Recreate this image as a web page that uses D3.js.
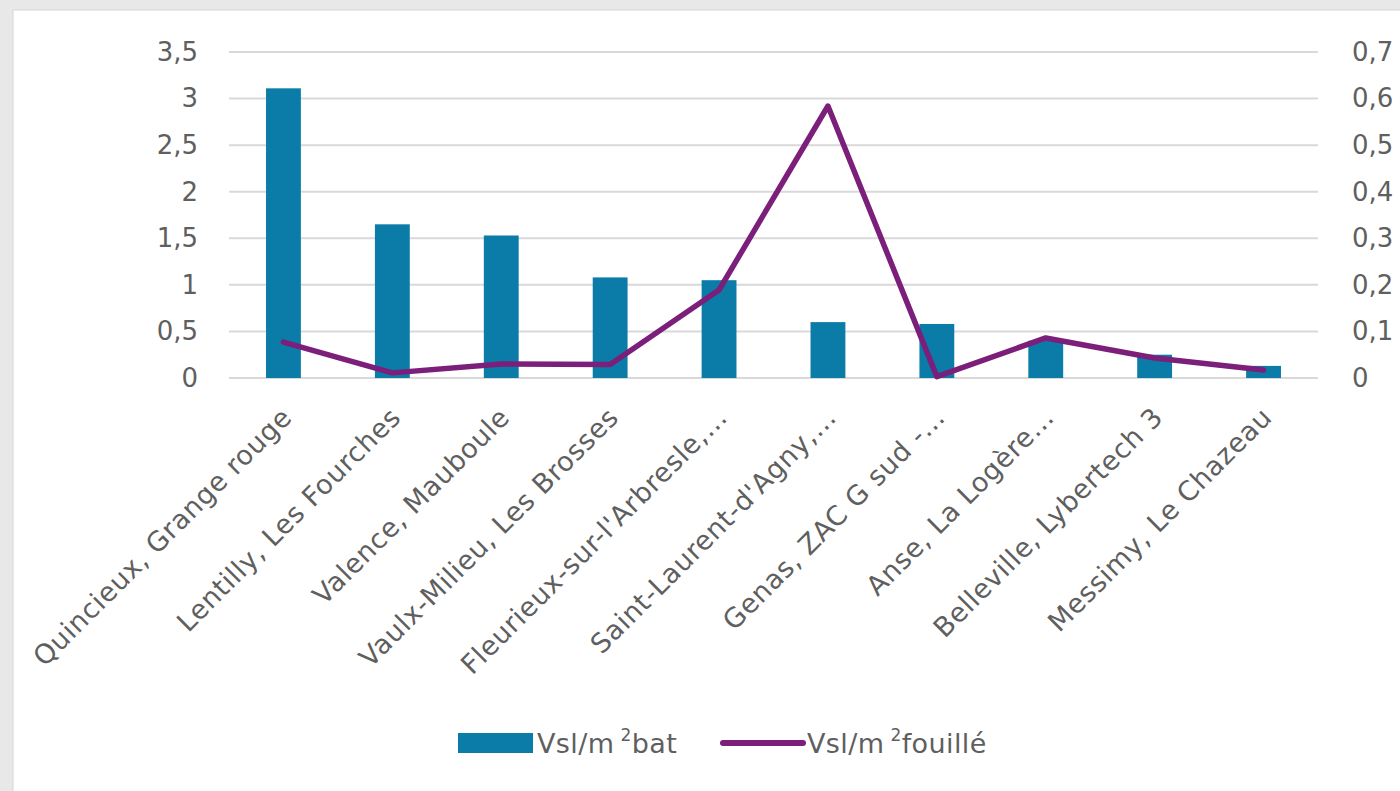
<!DOCTYPE html>
<html>
<head>
<meta charset="utf-8">
<style>
  body { margin: 0; background: #e8e8e8; }
  svg { display: block; }
  text { font-family: "DejaVu Sans", sans-serif; fill: #5f5f5f; }
</style>
</head>
<body>
<div id="chart"></div>
<script src="https://d3js.org/d3.v7.min.js"></script>
<script>
  // categories and the two series
  var sites = ["Quincieux, Grange rouge", "Lentilly, Les Fourches", "Valence, Mauboule",
    "Vaulx-Milieu, Les Brosses", "Fleurieux-sur-l'Arbresle,…", "Saint-Laurent-d'Agny,…",
    "Genas, ZAC G sud -…", "Anse, La Logère…", "Belleville, Lybertech 3", "Messimy, Le Chazeau"];
  var perBat = [3.11, 1.65, 1.53, 1.08, 1.05, 0.60, 0.58, 0.40, 0.25, 0.13];
  var perFouille = [0.077, 0.011, 0.030, 0.029, 0.189, 0.584, 0.003, 0.086, 0.043, 0.017];

  var leftTicks = [0, 0.5, 1, 1.5, 2, 2.5, 3, 3.5];
  var rightTicks = [0, 0.1, 0.2, 0.3, 0.4, 0.5, 0.6, 0.7];

  var W = 1400, H = 791;
  var plot = { left: 229, right: 1318, top: 52, bottom: 378 };

  var comma = function(v) { return String(v).replace(".", ","); };

  var svg = d3.select("#chart").append("svg")
    .attr("width", W)
    .attr("height", H);

  // white panel
  svg.append("rect")
    .attr("x", 13).attr("y", 10)
    .attr("width", W).attr("height", H)
    .attr("fill", "#fff")
    .attr("stroke", "#d6d6d6");

  var x = d3.scaleBand()
    .domain(sites)
    .range([plot.left, plot.right])
    .paddingInner(0.68)
    .paddingOuter(0.34);

  var yL = d3.scaleLinear().domain([0, 3.5]).range([plot.bottom, plot.top]);
  var yR = d3.scaleLinear().domain([0, 0.7]).range([plot.bottom, plot.top]);

  // gridlines
  svg.append("g").selectAll("line")
    .data(leftTicks)
    .enter().append("line")
    .attr("x1", plot.left).attr("x2", plot.right)
    .attr("y1", function(d) { return yL(d); })
    .attr("y2", function(d) { return yL(d); })
    .attr("stroke", "#d9d9d9")
    .attr("stroke-width", 2);

  // left axis
  var gl = svg.append("g")
    .attr("transform", "translate(" + (plot.left - 31) + ",0)")
    .call(d3.axisLeft(yL).tickValues(leftTicks).tickFormat(comma).tickSize(0).tickPadding(0));
  gl.select(".domain").remove();
  gl.selectAll("text").style("font-size", "26px").style("font-family", "DejaVu Sans").attr("fill", "#5f5f5f");

  // right axis
  var gr = svg.append("g")
    .attr("transform", "translate(" + (plot.right + 34) + ",0)")
    .call(d3.axisRight(yR).tickValues(rightTicks).tickFormat(comma).tickSize(0).tickPadding(0));
  gr.select(".domain").remove();
  gr.selectAll("text").style("font-size", "26px").style("font-family", "DejaVu Sans").attr("fill", "#5f5f5f");

  // bars
  svg.append("g").selectAll("rect")
    .data(perBat)
    .enter().append("rect")
    .attr("x", function(d, i) { return x(sites[i]); })
    .attr("width", x.bandwidth())
    .attr("y", function(d) { return yL(d); })
    .attr("height", function(d) { return yL(0) - yL(d); })
    .attr("fill", "#0b7ba8");

  // line
  var line = d3.line()
    .x(function(d, i) { return x(sites[i]) + x.bandwidth() / 2; })
    .y(function(d) { return yR(d); });

  svg.append("path")
    .datum(perFouille)
    .attr("d", line)
    .attr("fill", "none")
    .attr("stroke", "#7b1f7a")
    .attr("stroke-width", 5.5)
    .attr("stroke-linejoin", "round")
    .attr("stroke-linecap", "round");

  // category labels
  svg.append("g").selectAll("text")
    .data(sites)
    .enter().append("text")
    .attr("transform", function(d) {
      return "translate(" + (x(d) + x.bandwidth() / 2 + 10) + ",419) rotate(-45)";
    })
    .attr("text-anchor", "end")
    .style("font-size", "27px")
    .style("letter-spacing", "0.6px")
    .text(function(d) { return d; });

  // legend
  var lg = svg.append("g");
  lg.append("rect")
    .attr("x", 458).attr("y", 733)
    .attr("width", 75).attr("height", 20)
    .attr("fill", "#0b7ba8");
  var t1 = lg.append("text").attr("x", 537).attr("y", 753).style("font-size", "27px").style("letter-spacing", "0.4px");
  t1.append("tspan").text("Vsl/m");
  t1.append("tspan").attr("dx", 6).attr("dy", -12).style("font-size", "17px").text("2");
  t1.append("tspan").attr("dy", 12).text("bat");

  lg.append("line")
    .attr("x1", 723).attr("x2", 803)
    .attr("y1", 743).attr("y2", 743)
    .attr("stroke", "#7b1f7a")
    .attr("stroke-width", 6)
    .attr("stroke-linecap", "round");
  var t2 = lg.append("text").attr("x", 807).attr("y", 753).style("font-size", "27px").style("letter-spacing", "0.4px");
  t2.append("tspan").text("Vsl/m");
  t2.append("tspan").attr("dx", 6).attr("dy", -12).style("font-size", "17px").text("2");
  t2.append("tspan").attr("dy", 12).text("fouillé");
</script>
</body>
</html>
